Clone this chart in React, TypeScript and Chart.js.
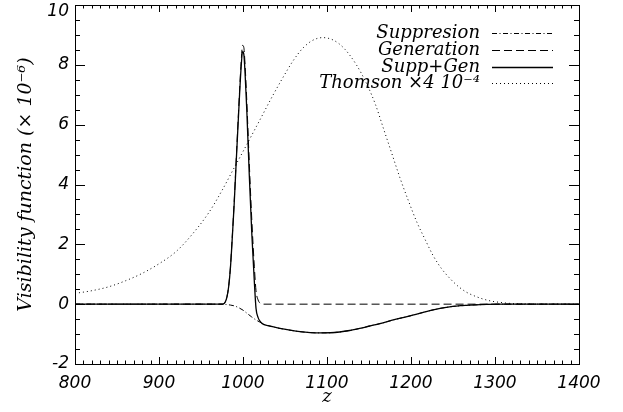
import { useEffect, useRef } from "react";
import { Chart, registerables } from "chart.js";

Chart.register(...registerables);

// ---- Data ----
const thomsonZ = [800, 820, 840, 860, 880, 900, 920, 940, 960, 975, 988, 1000, 1019, 1035, 1047, 1060, 1071, 1083, 1095, 1108, 1120, 1135, 1148, 1158, 1167, 1177, 1187, 1197, 1207, 1217, 1226, 1236, 1246, 1256, 1266, 1276, 1286, 1296, 1306, 1316, 1326, 1340, 1360, 1400];
const thomsonV = [0.36, 0.45, 0.58, 0.78, 1.03, 1.35, 1.75, 2.35, 3.09, 3.8, 4.48, 5.1, 6.1, 6.95, 7.55, 8.15, 8.55, 8.82, 8.91, 8.82, 8.56, 8.0, 7.32, 6.65, 5.89, 5.05, 4.21, 3.45, 2.74, 2.15, 1.64, 1.2, 0.87, 0.6, 0.4, 0.27, 0.17, 0.1, 0.06, 0.03, 0.015, 0.005, 0, 0];

const genZ = [800, 900, 976, 979, 981, 983, 985, 987, 989.5, 992, 995, 997.5, 999.5, 1001, 1002.5, 1004.5, 1007.5, 1010.5, 1013.5, 1015.5, 1018, 1020, 1022, 1100, 1200, 1300, 1400];
const genV = [0, 0, 0, 0.08, 0.26, 0.62, 1.23, 2.15, 3.42, 4.88, 6.62, 7.95, 8.65, 8.58, 7.98, 6.8, 4.7, 2.8, 1.25, 0.45, 0.14, 0.04, 0, 0, 0, 0, 0];

const suppZ = [800, 900, 970, 976, 980, 985, 990, 995, 1000, 1005, 1010, 1015, 1020, 1023, 1030, 1044, 1056, 1068, 1080, 1092, 1104, 1115, 1127, 1139, 1151, 1163, 1180, 1202, 1225, 1246, 1266, 1290, 1310, 1400];
const suppV = [0, 0, 0, 0, -0.01, -0.03, -0.06, -0.12, -0.2, -0.31, -0.42, -0.52, -0.6, -0.65, -0.72, -0.81, -0.87, -0.92, -0.95, -0.96, -0.955, -0.93, -0.88, -0.81, -0.73, -0.65, -0.52, -0.37, -0.2, -0.09, -0.04, -0.01, 0, 0];

const sumZ = [800, 900, 970, 976, 979, 981, 983, 985, 987, 989.5, 992, 995, 997.5, 999.5, 1001, 1002.5, 1004.5, 1007.5, 1010.5, 1013.5, 1015.5, 1018, 1020, 1023, 1030, 1044, 1056, 1068, 1080, 1092, 1104, 1115, 1127, 1139, 1151, 1163, 1180, 1202, 1225, 1246, 1266, 1290, 1310, 1400];
const sumV = [0, 0, 0, 0, 0.08, 0.25, 0.6, 1.2, 2.1, 3.35, 4.8, 6.5, 7.8, 8.45, 8.35, 7.7, 6.5, 4.3, 2.35, 0.75, -0.14, -0.45, -0.56, -0.65, -0.72, -0.81, -0.87, -0.92, -0.95, -0.96, -0.955, -0.93, -0.88, -0.81, -0.73, -0.65, -0.52, -0.37, -0.2, -0.09, -0.04, -0.01, 0, 0];

const seriesLabels = ["Suppresion", "Generation", "Supp+Gen", "Thomson ×4 10⁻⁴"];
const xTitle = "z";
const yTitle = "Visibility function (× 10⁻⁶)";

const X_MIN = 800, X_MAX = 1400, X_STEP = 100, X_MINOR = 10;
const Y_MIN = -2, Y_MAX = 10, Y_STEP = 2, Y_MINOR = 0.5;

const DASHES: number[][] = [[5, 2.5, 1, 2.5], [8, 4], [], [1, 3]];
const WIDTHS = [1, 1, 1.3, 1];

const toPts = (zs: number[], vs: number[]) => zs.map((z, i) => ({ x: z, y: vs[i] }));

const serif = "'DejaVu Serif', serif";
const sans = "'DejaVu Sans', sans-serif";

const framePlugin = {
  id: "idlFrame",
  beforeDraw(chart: any) {
    // IDL keeps the top y label inside the window: nudge it down
    const ys = chart.scales.y;
    const items = ys.getLabelItems();
    items.forEach((it: any) => {
      if (String(it.label) === String(Y_MAX)) {
        const t = it.options.translation;
        if (!it._nudged) {
          it.options.translation = [t[0], t[1] + 7];
          it._nudged = true;
        }
      }
    });
  },
  afterDraw(chart: any) {
    const { ctx, chartArea: a, scales } = chart;
    const xs = scales.x;
    const ys = scales.y;
    ctx.save();
    ctx.strokeStyle = "#000";
    ctx.lineWidth = 1;
    ctx.setLineDash([]);
    ctx.strokeRect(a.left + 0.5, a.top + 0.5, a.right - a.left, a.bottom - a.top);
    ctx.beginPath();
    for (let v = X_MIN; v <= X_MAX + 1e-6; v += X_MINOR) {
      const px = Math.round(xs.getPixelForValue(v)) + 0.5;
      const major = Math.abs(v / X_STEP - Math.round(v / X_STEP)) < 1e-6;
      const len = major ? 7 : 3.5;
      ctx.moveTo(px, a.bottom);
      ctx.lineTo(px, a.bottom - len);
      ctx.moveTo(px, a.top);
      ctx.lineTo(px, a.top + len);
    }
    for (let v = Y_MIN; v <= Y_MAX + 1e-6; v += Y_MINOR) {
      const py = Math.round(ys.getPixelForValue(v)) + 0.5;
      const major = Math.abs(v / Y_STEP - Math.round(v / Y_STEP)) < 1e-6;
      const len = major ? 10 : 5;
      ctx.moveTo(a.left, py);
      ctx.lineTo(a.left + len, py);
      ctx.moveTo(a.right, py);
      ctx.lineTo(a.right - len, py);
    }
    ctx.stroke();

    // legend (IDL style: right-aligned text, then line sample)
    const textRight = 480;
    const sx0 = 492, sx1 = 553;
    const rowY = [33, 50, 67, 83];
    ctx.font = `italic 18px ${serif}`;
    ctx.fillStyle = "#000";
    ctx.textAlign = "right";
    ctx.textBaseline = "middle";
    seriesLabels.forEach((lab, i) => {
      const y = rowY[i];
      ctx.fillText(lab, textRight, y);
      ctx.beginPath();
      ctx.setLineDash(DASHES[i]);
      ctx.lineWidth = WIDTHS[i];
      ctx.moveTo(sx0, y + 0.5);
      ctx.lineTo(sx1, y + 0.5);
      ctx.stroke();
    });
    ctx.restore();
  },
};

export default function App() {
  const ref = useRef<HTMLCanvasElement | null>(null);
  useEffect(() => {
    document.body.style.margin = "0";
    const canvas = ref.current;
    if (!canvas) return;
    const mk = (label: string, zs: number[], vs: number[], i: number) => ({
      label,
      data: toPts(zs, vs),
      borderColor: "#000",
      borderWidth: WIDTHS[i],
      borderDash: DASHES[i],
      pointRadius: 0,
      fill: false,
      cubicInterpolationMode: "monotone" as const,
    });
    const chart = new Chart(canvas, {
      type: "line",
      data: {
        datasets: [
          mk(seriesLabels[3], thomsonZ, thomsonV, 3),
          mk(seriesLabels[1], genZ, genV, 1),
          mk(seriesLabels[0], suppZ, suppV, 0),
          mk(seriesLabels[2], sumZ, sumV, 2),
        ],
      },
      options: {
        responsive: false,
        animation: false,
        devicePixelRatio: 1,
        layout: { padding: { top: 5, right: 44, left: 0, bottom: 0 } },
        plugins: { legend: { display: false }, tooltip: { enabled: false } },
        scales: {
          x: {
            type: "linear",
            min: X_MIN,
            max: X_MAX,
            grid: { display: false, drawTicks: false },
            border: { display: false },
            ticks: {
              stepSize: X_STEP,
              color: "#000",
              padding: 9,
              maxRotation: 0,
              font: { family: sans, style: "italic", size: 17 },
              callback: (v: any) => String(v),
            },
            title: {
              display: true,
              text: xTitle,
              color: "#000",
              font: { family: serif, style: "italic", size: 18 },
              padding: { top: 0, bottom: 4 },
            },
            afterFit(s: any) {
              s.height = 48;
              s.paddingLeft = 0;
              s.paddingRight = 0;
            },
          },
          y: {
            type: "linear",
            min: Y_MIN,
            max: Y_MAX,
            grid: { display: false, drawTicks: false },
            border: { display: false },
            ticks: {
              stepSize: Y_STEP,
              color: "#000",
              padding: 6,
              font: { family: sans, style: "italic", size: 17 },
              callback: (v: any) => String(v),
            },
            title: {
              display: true,
              text: yTitle,
              color: "#000",
              font: { family: serif, style: "italic", size: 19 },
              padding: { top: 15, bottom: 0 },
            },
            afterFit(s: any) {
              s.width = 75;
              s.paddingTop = 0;
              s.paddingBottom = 0;
            },
          },
        },
      },
      plugins: [framePlugin],
    });
    return () => chart.destroy();
  }, []);
  return <canvas ref={ref} width={623} height={412} style={{ display: "block" }} />;
}
